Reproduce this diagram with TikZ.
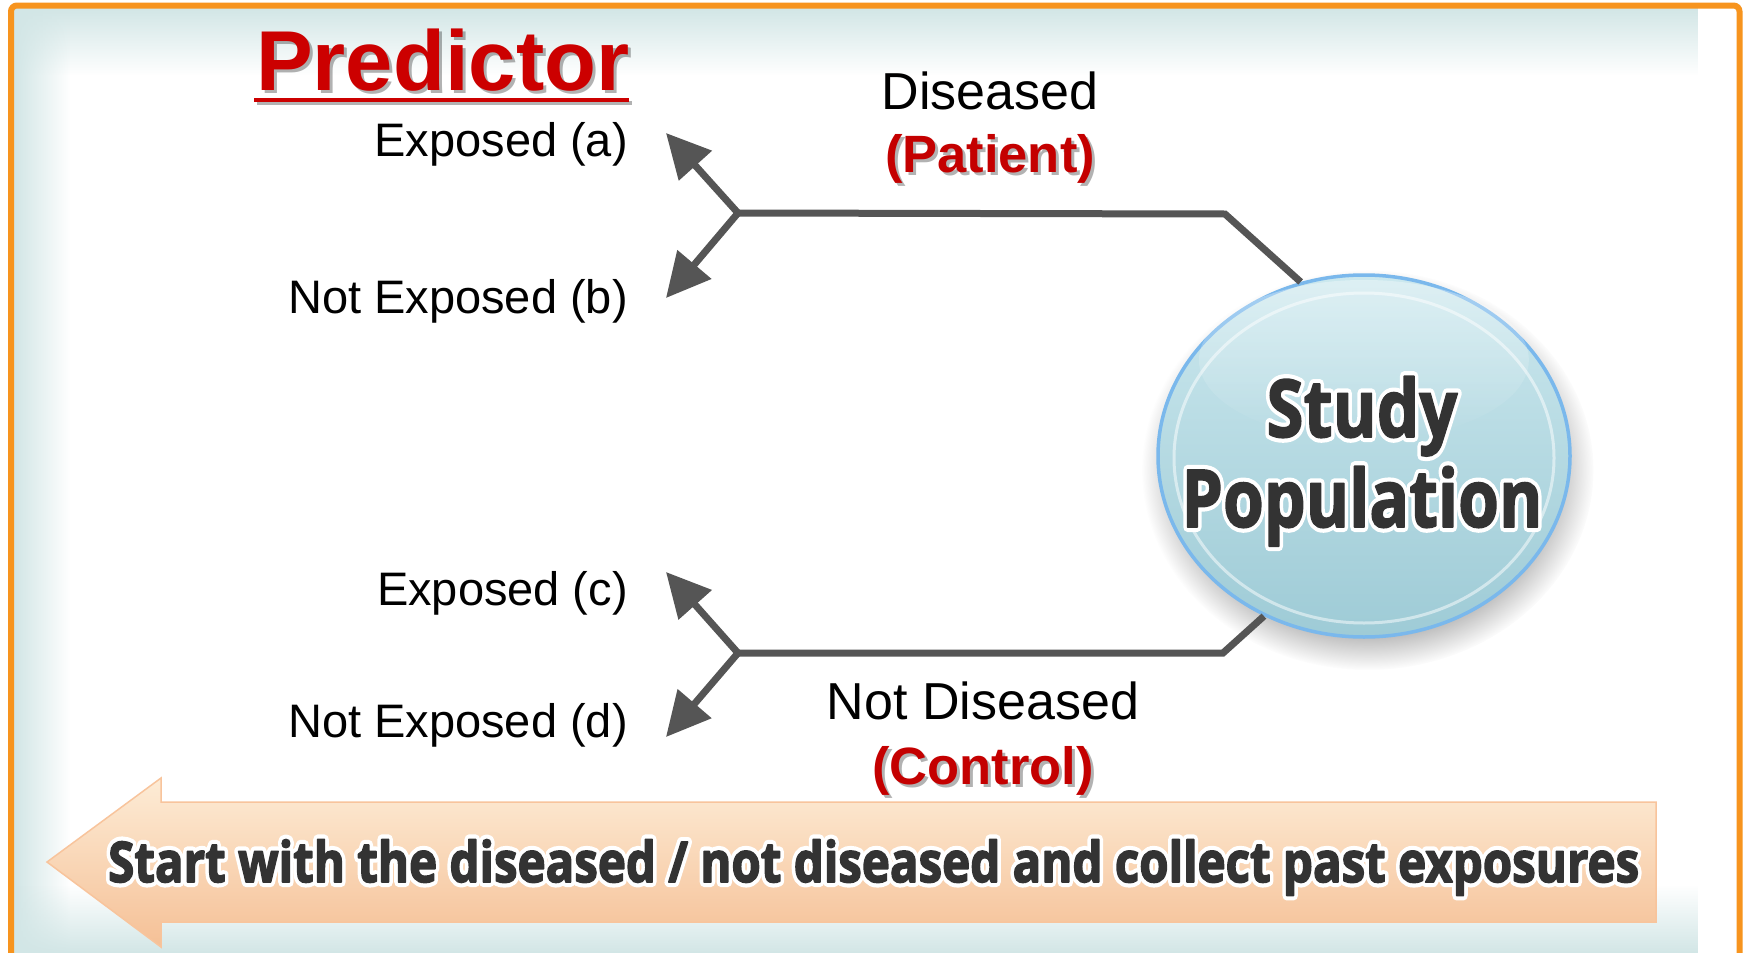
\documentclass[tikz,border=0pt]{standalone}
\usepackage{fontspec}
\usepackage{graphicx}
\setmainfont{Liberation Sans}
\newfontfamily\roundsans{Open Sans}
\usetikzlibrary{arrows.meta,fadings,shapes.geometric}

\definecolor{frameorange}{RGB}{247,148,30}
\definecolor{paneledge}{RGB}{210,230,230}
\definecolor{linegray}{RGB}{85,85,85}
\definecolor{titlered}{RGB}{204,0,0}
\definecolor{labelred}{RGB}{196,0,0}
\definecolor{inkdark}{RGB}{51,51,51}
\definecolor{ballrim}{RGB}{122,184,236}
\definecolor{balltop}{RGB}{204,232,238}
\definecolor{ballbottom}{RGB}{158,203,214}
\definecolor{arrowtop}{RGB}{253,236,214}
\definecolor{arrowmid}{RGB}{250,214,180}
\definecolor{arrowbottom}{RGB}{245,192,150}
\definecolor{arrowedge}{RGB}{248,196,156}

\tikzfading[name=fadetop, top color=transparent!0, bottom color=transparent!100]
\tikzfading[name=fadebottom, top color=transparent!100, bottom color=transparent!0]
\tikzfading[name=fadeleft, left color=transparent!0, right color=transparent!100]

% outlined text: a stroked copy in the halo colour, then the ink copy
% drawn with a thin stroke of its own colour for extra weight.
% #1 halo stroke width, #2 halo colour, #3 ink colour, #4 text
\makeatletter
\newbox\halobox
\newcommand\halotext[4]{%
  \setbox\halobox=\hbox{#4}%
  \rlap{\color{#2}\pgfsys@invoke{1 j 1 J 2 Tr #1 w}\copy\halobox\pgfsys@invoke{0 Tr}}%
  {\color{#3}\pgfsys@invoke{1 j 2 Tr 1.6 w}\copy\halobox\pgfsys@invoke{0 Tr}}}
\makeatother

\tikzset{
  conn/.style={draw=linegray, line width=7pt, >={Triangle[length=44pt,width=43pt]}},
  lab/.style={inner sep=0pt, font=\fontsize{47}{52}\selectfont, text=black},
  biglab/.style={inner sep=0pt, font=\fontsize{52}{58}\selectfont, text=black},
  redlab/.style={inner sep=0pt, font=\fontsize{52.5}{58}\selectfont\bfseries, text=labelred},
  redshadow/.style={inner sep=0pt, font=\fontsize{52.5}{58}\selectfont\bfseries, text=black, opacity=0.3},
}

\begin{document}
\begin{tikzpicture}[x=1pt,y=-1pt]
\useasboundingbox (0,0) rectangle (1743,953);
\fill[white] (0,0) rectangle (1743,953);

% panel with soft tinted edges
\fill[white] (14,8) rectangle (1701,953);
\fill[paneledge, path fading=fadetop] (14,8) rectangle (1701,75);
\fill[paneledge, path fading=fadeleft] (14,8) rectangle (70,953);
\fill[paneledge, path fading=fadebottom] (14,885) rectangle (1701,953);

% orange frame
\draw[frameorange, line width=6pt, rounded corners=6pt]
  (11,960) -- (11,5.5) -- (1739.5,5.5) -- (1739.5,960);

% big arrow at the bottom
\shade[top color=arrowtop, middle color=arrowmid, bottom color=arrowbottom,
       draw=arrowedge, line width=1.5pt]
  (47,862) -- (161,778) -- (161,802) -- (1656,802) -- (1656,922)
  -- (161,922) -- (161,947) -- cycle;
\node[inner sep=0pt, anchor=base west] (startnote) at (108,882)
  {\resizebox{1531pt}{\height}{\halotext{10}{white}{inkdark}{\roundsans\bfseries\fontsize{56}{60}\selectfont Start with the diseased / not diseased and collect past exposures}}};

% study population ball
\fill[black, opacity=0.3, path fading=circle with fuzzy edge 20 percent]
  (1368,470) ellipse [x radius=226, y radius=200];
\node[ellipse, minimum width=412pt, minimum height=362pt, inner sep=0pt,
      top color=balltop, bottom color=ballbottom, draw=ballrim, line width=3.5pt]
  (pop) at (1364,456) {};
\draw[white, opacity=0.5, line width=3pt] (1364,458) ellipse [x radius=190, y radius=165];
\fill[white, opacity=0.35, path fading=fadetop] (1364,360) ellipse [x radius=165, y radius=80];
\node[inner sep=0pt, anchor=base] (study) at (1362,437)
  {\resizebox{191pt}{\height}{\halotext{10}{white}{inkdark}{\roundsans\bfseries\fontsize{80}{86}\selectfont Study}}};
\node[inner sep=0pt, anchor=base] (popul) at (1362,527)
  {\resizebox{361pt}{\height}{\halotext{10}{white}{inkdark}{\roundsans\bfseries\fontsize{80}{86}\selectfont Population}}};

% title
\node[inner sep=0pt, anchor=base west, text=black, opacity=0.3,
      font=\fontsize{85}{90}\selectfont\bfseries] at (259,93) {Predictor};
\node[inner sep=0pt, anchor=base west, text=titlered,
      font=\fontsize{85}{90}\selectfont\bfseries] (pred) at (256,90) {Predictor};
\draw[black, opacity=0.3, line width=4.5pt] (257,103) -- (632,103);
\draw[titlered, line width=4.5pt] (254,100) -- (629,100);

% exposure labels
\node[lab, anchor=base east] (ea) at (628,156) {Exposed (a)};
\node[lab, anchor=base east] (nb) at (628,313) {Not Exposed (b)};
\node[lab, anchor=base east] (ec) at (628,605) {Exposed (c)};
\node[lab, anchor=base east] (nd) at (628,737) {Not Exposed (d)};

% group labels
\node[biglab, anchor=base] (dis) at (990,109) {Diseased};
\node[redshadow, anchor=base] at (993,175) {(Patient)};
\node[redlab, anchor=base] (pat) at (990,172) {(Patient)};
\node[biglab, anchor=base] (ndis) at (983,719) {Not Diseased};
\node[redshadow, anchor=base] at (986,787) {(Control)};
\node[redlab, anchor=base] (ctl) at (983,784) {(Control)};

% branch points
\coordinate (j1) at (738,213);
\coordinate (ta) at (666,133);
\coordinate (tb) at (666,298);
\coordinate (k1) at (1225,214);
\coordinate (j2) at (738,653);
\coordinate (tc) at (666,572);
\coordinate (td) at (666,737);
\coordinate (k2) at (1223,653);

% connectors
\draw[conn] (j1) -- (k1) -- (pop.110);
\draw[conn, <->] (ta) -- (j1) -- (tb);
\draw[conn] (j2) -- (k2) -- (pop.238);
\draw[conn, <->] (tc) -- (j2) -- (td);
\end{tikzpicture}
\end{document}
